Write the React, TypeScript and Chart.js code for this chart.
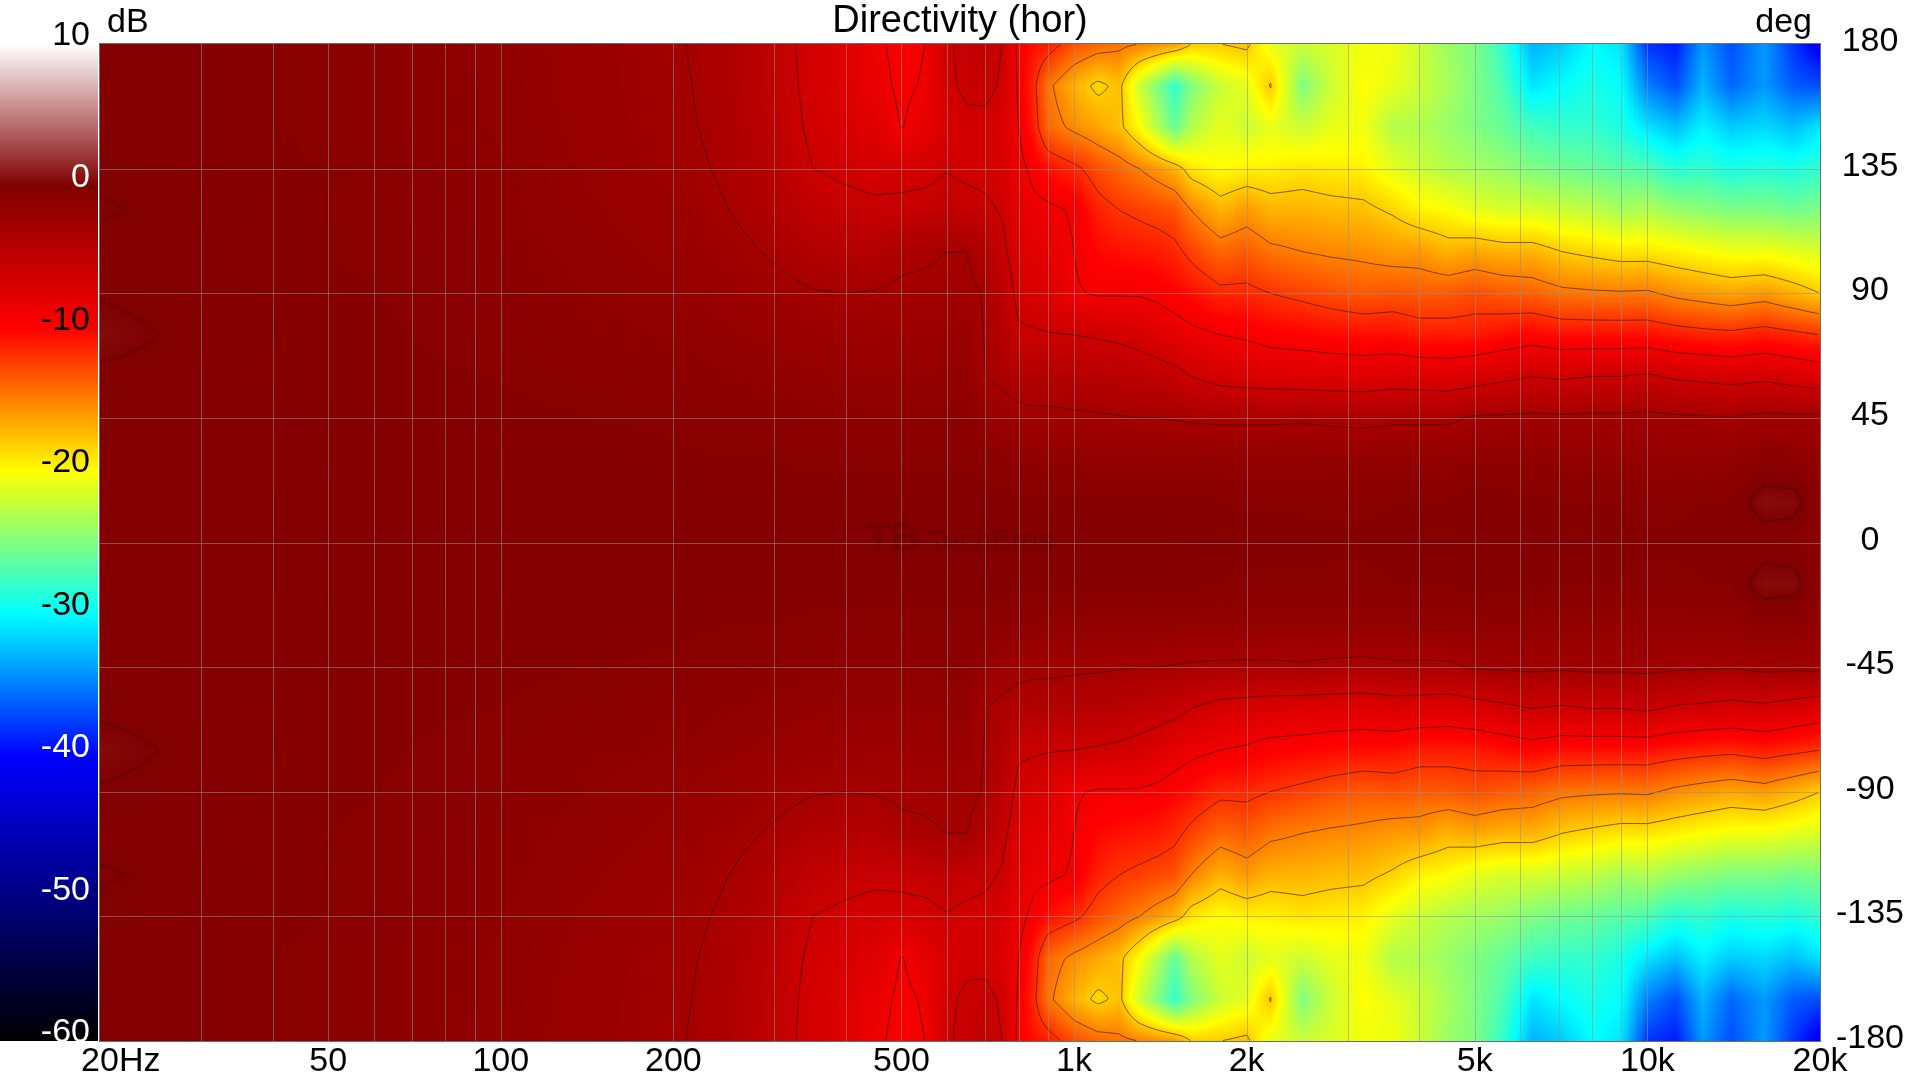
import React, { useEffect, useRef } from 'react';
import { Chart, registerables } from 'chart.js';

Chart.register(...registerables);

// measured grid: frequency columns (Hz)
const freqs = [
  20, 30, 50, 100, 150,
  200, 250, 300, 350, 400, 450,
  500, 550, 600, 650, 700, 750, 800, 850, 900,
  1000, 1100, 1200, 1300, 1400, 1500, 1600, 1800,
  2000, 2200, 2500, 2800, 3200, 3600, 4000, 4500,
  5000, 5600, 6300, 7100, 8000, 9000,
  10000, 11200, 12500, 14000, 16000, 18000, 20000,
];

// angle rows (deg) - the horizontal plot is symmetric, negative angles use the same rows
const angles = [0, 15, 30, 45, 60, 75, 90, 105, 120, 135, 150, 165, 180];

// level in dB per angle row, one value per frequency column
const deg0 = [
  -0.3, -0.4, -0.3, -0.3, -0.3,
  -0.3, -0.3, -0.3, -0.3, -0.3, -0.3,
  -0.3, -0.3, -0.3, -0.3, -0.3, -0.3, -0.3, -0.3, -0.3,
  -0.3, -0.3, -0.3, -0.3, -0.3, -0.4, -0.4, -0.4,
  -0.4, -0.4, -0.4, -0.5, -0.5, -0.5, -0.4, -0.4,
  -0.4, -0.4, -0.4, -0.4, -0.4, -0.5,
  -0.5, -0.5, -0.5, -0.5, -0.5, -0.6, -1.0,
];
const deg15 = [
  -0.3, -0.4, -0.3, -0.3, -0.3,
  -0.4, -0.4, -0.4, -0.4, -0.4, -0.4,
  -0.4, -0.4, -0.4, -0.4, -0.4, -0.4, -0.5, -0.5, -0.5,
  -0.5, -0.5, -0.5, -0.5, -0.5, -0.5, -0.5, -0.6,
  -0.7, -0.7, -0.7, -0.7, -0.7, -0.6, -0.6, -0.6,
  -0.3, -0.4, -0.5, -0.6, -0.6, -0.6,
  -0.8, -0.7, -0.6, -0.6, 0.5, 0.4, -1.0,
];
const deg30 = [
  -0.3, -0.4, -0.4, -0.4, -0.4,
  -0.5, -0.6, -0.6, -0.7, -0.7, -0.7,
  -0.7, -0.7, -0.7, -0.7, -0.8, -1.0, -1.2, -1.2, -1.3,
  -1.3, -1.4, -1.4, -1.4, -1.5, -1.5, -1.5, -1.6,
  -1.6, -1.6, -1.6, -1.5, -1.5, -1.5, -1.5, -1.4,
  -1.3, -1.3, -1.3, -1.4, -1.4, -1.5,
  -1.5, -1.5, -1.4, -1.4, -0.9, -1.0, -1.5,
];
const deg45 = [
  -0.3, -0.4, -0.4, -0.5, -0.6,
  -0.7, -0.8, -0.9, -1.0, -1.1, -1.1,
  -1.1, -1.1, -1.0, -1.0, -1.5, -2.2, -2.5, -2.6, -2.6,
  -2.7, -2.8, -2.9, -3.0, -3.0, -3.1, -3.2, -3.3,
  -3.3, -3.3, -3.2, -3.4, -3.5, -3.3, -3.3, -3.3,
  -2.8, -2.7, -2.6, -2.7, -2.6, -2.6,
  -2.5, -2.7, -2.8, -2.9, -2.5, -2.6, -2.5,
];
const deg60 = [
  -0.2, -0.4, -0.5, -0.6, -0.8,
  -0.9, -1.1, -1.3, -1.5, -1.6, -1.6,
  -1.6, -1.6, -1.5, -1.5, -3.0, -3.4, -3.8, -4.0, -4.0,
  -4.2, -4.3, -4.5, -4.7, -5.0, -5.3, -6.0, -6.8,
  -7.0, -7.2, -7.3, -7.4, -7.5, -7.2, -7.3, -7.5,
  -7.0, -6.5, -6.0, -6.3, -6.0, -6.0,
  -5.7, -6.3, -6.5, -6.8, -6.5, -7.0, -7.5,
];
const deg75 = [
  0.4, -0.3, -0.5, -0.7, -1.0,
  -1.2, -1.5, -1.8, -2.1, -2.3, -2.3,
  -2.2, -2.2, -2.1, -2.0, -3.1, -4.0, -5.7, -5.8, -5.9,
  -6.0, -6.2, -6.4, -6.8, -7.3, -8.0, -8.5, -9.0,
  -9.3, -9.8, -10.0, -10.3, -10.5, -10.5, -11.0, -11.0,
  -11.0, -10.5, -10.0, -10.5, -10.5, -10.5,
  -10.5, -11.0, -11.3, -11.5, -11.0, -11.5, -12.0,
];
const deg90 = [
  -0.1, -0.4, -0.5, -0.8, -1.2,
  -1.5, -2.0, -2.5, -2.9, -3.0, -2.9,
  -2.7, -2.7, -2.6, -2.5, -3.2, -4.6, -6.6, -7.0, -7.3,
  -8.8, -9.2, -9.2, -9.2, -9.5, -10.0, -10.5, -11.5,
  -11.5, -12.0, -12.5, -13.0, -13.5, -13.2, -13.5, -13.5,
  -13.0, -13.5, -13.8, -14.5, -14.7, -14.8,
  -14.7, -15.5, -16.0, -16.5, -16.0, -17.0, -18.0,
];
const deg105 = [
  -0.3, -0.4, -0.6, -0.9, -1.4,
  -1.8, -2.5, -3.2, -3.9, -4.1, -4.1,
  -3.4, -3.2, -3.0, -3.0, -4.0, -5.5, -7.2, -7.8, -8.0,
  -9.0, -10.2, -10.6, -10.8, -11.0, -11.5, -12.5, -14.0,
  -13.5, -14.5, -15.0, -15.3, -15.5, -16.0, -16.0, -17.0,
  -16.5, -17.0, -17.0, -18.0, -18.5, -19.0,
  -19.0, -19.5, -20.0, -20.5, -20.5, -21.0, -21.5,
];
const deg120 = [
  0.1, -0.3, -0.6, -1.0, -1.6,
  -2.1, -3.0, -3.9, -5.0, -5.4, -5.6,
  -5.5, -5.3, -5.0, -5.2, -5.6, -6.2, -7.8, -8.5, -8.6,
  -9.2, -11.2, -12.0, -12.4, -12.8, -13.2, -15.0, -17.0,
  -16.0, -17.0, -17.0, -17.3, -17.5, -18.3, -19.5, -20.0,
  -21.0, -21.5, -21.5, -22.0, -22.5, -23.5,
  -23.0, -24.0, -24.5, -25.0, -25.0, -25.5, -25.0,
];
const deg135 = [
  -0.2, -0.4, -0.6, -1.1, -1.8,
  -2.4, -3.3, -4.4, -6.0, -6.4, -6.7,
  -6.7, -6.6, -6.1, -6.5, -6.6, -6.8, -8.4, -9.5, -10.5,
  -11.5, -13.0, -14.0, -15.0, -16.0, -17.0, -19.0, -20.0,
  -19.5, -19.5, -19.0, -19.3, -19.5, -21.0, -22.0, -23.0,
  -23.5, -24.0, -25.0, -25.5, -26.0, -26.5,
  -27.0, -28.5, -28.0, -29.0, -28.5, -29.0, -28.0,
];
const deg150 = [
  -0.3, -0.4, -0.7, -1.2, -1.9,
  -2.6, -3.5, -4.8, -6.4, -7.0, -7.5,
  -9.1, -8.0, -7.0, -6.5, -6.6, -7.2, -9.0, -11.0, -14.0,
  -15.5, -16.5, -17.5, -20.0, -23.0, -26.0, -23.0, -21.0,
  -22.0, -21.0, -22.0, -21.0, -20.5, -23.0, -23.0, -24.0,
  -25.0, -26.0, -27.5, -28.0, -28.0, -29.0,
  -31.0, -32.5, -30.5, -32.0, -31.5, -32.5, -31.0,
];
const deg165 = [
  -0.2, -0.4, -0.7, -1.2, -2.0,
  -2.7, -3.6, -5.0, -6.6, -7.4, -8.3,
  -9.4, -8.8, -6.4, -5.6, -5.4, -6.3, -9.3, -11.5, -14.5,
  -17.0, -18.5, -17.5, -22.0, -25.0, -28.0, -25.0, -22.0,
  -21.0, -17.8, -25.0, -22.0, -20.0, -21.0, -22.0, -23.5,
  -25.0, -27.0, -31.0, -30.0, -29.0, -30.0,
  -35.0, -37.0, -33.0, -36.0, -34.0, -36.5, -37.0,
];
const deg180 = [
  -0.1, -0.4, -0.7, -1.3, -2.0,
  -2.8, -3.7, -5.1, -6.7, -7.5, -8.6,
  -9.6, -9.0, -6.3, -5.4, -5.2, -6.0, -9.5, -10.5, -11.0,
  -13.0, -14.0, -14.5, -15.0, -15.5, -16.0, -18.0, -18.0,
  -17.5, -21.0, -22.0, -21.5, -20.5, -20.5, -22.0, -24.0,
  -25.0, -28.0, -33.0, -32.0, -30.0, -31.0,
  -38.0, -39.0, -34.0, -37.0, -34.0, -38.0, -41.0,
];
const levelRows = [deg0, deg15, deg30, deg45, deg60, deg75, deg90, deg105, deg120, deg135, deg150, deg165, deg180];

const contourLevels = [0, -3, -6, -9, -12, -15, -18];

const freqTicks = [20, 50, 100, 200, 500, 1000, 2000, 5000, 10000, 20000];
const freqTickLabels = ['20Hz', '50', '100', '200', '500', '1k', '2k', '5k', '10k', '20k'];
const freqGrid = [
  30, 40, 50, 60, 70, 80, 90, 100, 200, 300, 400, 500, 600, 700, 800, 900,
  1000, 2000, 3000, 4000, 5000, 6000, 7000, 8000, 9000, 10000,
];
const angleTicks = [180, 135, 90, 45, 0, -45, -90, -135, -180];
const dbTicks = [10, 0, -10, -20, -30, -40, -50, -60];

// colour map stops: dB, r, g, b
const colorStops = [
  [10, 255, 255, 255],
  [0, 128, 0, 0],
  [-10, 255, 0, 0],
  [-15, 255, 128, 0],
  [-20, 255, 255, 0],
  [-25, 128, 255, 128],
  [-30, 0, 255, 255],
  [-35, 0, 128, 255],
  [-40, 0, 0, 255],
  [-50, 0, 0, 128],
  [-60, 0, 0, 0],
];

const FONT = '"Liberation Sans", Arial, sans-serif';
const logFreqs = freqs.map((f) => Math.log10(f));

function colorAt(v: number): number[] {
  const first = colorStops[0];
  const last = colorStops[colorStops.length - 1];
  if (v >= first[0]) return [first[1], first[2], first[3]];
  for (let i = 0; i < colorStops.length - 1; i++) {
    const a = colorStops[i];
    const b = colorStops[i + 1];
    if (v <= a[0] && v >= b[0]) {
      const t = (a[0] - v) / (a[0] - b[0]);
      return [a[1] + (b[1] - a[1]) * t, a[2] + (b[2] - a[2]) * t, a[3] + (b[3] - a[3]) * t];
    }
  }
  return [last[1], last[2], last[3]];
}

function fracIndex(arr: number[], v: number) {
  const n = arr.length - 1;
  if (v <= arr[0]) return 0;
  if (v >= arr[n]) return n;
  let i = 0;
  while (arr[i + 1] < v) i++;
  return i + (v - arr[i]) / (arr[i + 1] - arr[i]);
}

function levelAt(fi: number, ai: number) {
  const i0 = Math.floor(fi);
  const j0 = Math.floor(ai);
  const i1 = Math.min(i0 + 1, freqs.length - 1);
  const j1 = Math.min(j0 + 1, angles.length - 1);
  const tx = fi - i0;
  const ty = ai - j0;
  const a = levelRows[j0][i0] * (1 - tx) + levelRows[j0][i1] * tx;
  const b = levelRows[j1][i0] * (1 - tx) + levelRows[j1][i1] * tx;
  return a * (1 - ty) + b * ty;
}

const directivityPlugin = {
  id: 'directivity',
  afterDraw(chart: any) {
    const { ctx, chartArea: area, scales } = chart;
    const xs = scales.x;
    const ys = scales.y;
    const dbs = scales.db;
    const left = Math.round(area.left);
    const top = Math.round(area.top);
    const w = Math.round(area.right) - left;
    const h = Math.round(area.bottom) - top;

    // map every pixel column / row back to grid positions through the scales
    const fIdx = new Float32Array(w);
    for (let px = 0; px < w; px++) {
      const f = xs.getValueForPixel(left + px + 0.5);
      fIdx[px] = fracIndex(logFreqs, Math.log10(f));
    }
    const aIdx = new Float32Array(h);
    for (let py = 0; py < h; py++) {
      const ang = Math.abs(ys.getValueForPixel(top + py + 0.5));
      aIdx[py] = fracIndex(angles, ang);
    }

    // heat map
    const img = ctx.createImageData(w, h);
    for (let py = 0; py < h; py++) {
      for (let px = 0; px < w; px++) {
        const c = colorAt(levelAt(fIdx[px], aIdx[py]));
        const k = (py * w + px) * 4;
        img.data[k] = c[0];
        img.data[k + 1] = c[1];
        img.data[k + 2] = c[2];
        img.data[k + 3] = 255;
      }
    }
    ctx.putImageData(img, left, top);

    // contour lines (marching squares on a 2px sample grid)
    const s = 2;
    const nx = Math.floor((w - 1) / s) + 1;
    const ny = Math.floor((h - 1) / s) + 1;
    const V = new Float32Array(nx * ny);
    for (let j = 0; j < ny; j++) {
      for (let i = 0; i < nx; i++) {
        V[j * nx + i] = levelAt(fIdx[Math.min(i * s, w - 1)], aIdx[Math.min(j * s, h - 1)]);
      }
    }
    ctx.save();
    ctx.strokeStyle = 'rgba(40,20,0,0.62)';
    ctx.lineWidth = 1;
    for (const L of contourLevels) {
      ctx.beginPath();
      for (let j = 0; j < ny - 1; j++) {
        for (let i = 0; i < nx - 1; i++) {
          const a = V[j * nx + i];
          const b = V[j * nx + i + 1];
          const c = V[(j + 1) * nx + i + 1];
          const d = V[(j + 1) * nx + i];
          const code = (a > L ? 8 : 0) | (b > L ? 4 : 0) | (c > L ? 2 : 0) | (d > L ? 1 : 0);
          if (code === 0 || code === 15) continue;
          const x0 = left + i * s + 0.5;
          const y0 = top + j * s + 0.5;
          const T = [x0 + (s * (L - a)) / (b - a), y0];
          const R = [x0 + s, y0 + (s * (L - b)) / (c - b)];
          const B = [x0 + (s * (L - d)) / (c - d), y0 + s];
          const Lf = [x0, y0 + (s * (L - a)) / (d - a)];
          const seg = (p: number[], q: number[]) => {
            ctx.moveTo(p[0], p[1]);
            ctx.lineTo(q[0], q[1]);
          };
          switch (code) {
            case 1: case 14: seg(Lf, B); break;
            case 2: case 13: seg(B, R); break;
            case 3: case 12: seg(Lf, R); break;
            case 4: case 11: seg(T, R); break;
            case 6: case 9: seg(T, B); break;
            case 7: case 8: seg(Lf, T); break;
            case 5: seg(Lf, T); seg(B, R); break;
            case 10: seg(T, R); seg(Lf, B); break;
          }
        }
      }
      ctx.stroke();
    }

    // grid
    ctx.strokeStyle = 'rgba(145,145,145,0.55)';
    ctx.beginPath();
    for (const f of freqGrid) {
      const px = Math.round(xs.getPixelForValue(f)) + 0.5;
      ctx.moveTo(px, top);
      ctx.lineTo(px, top + h);
    }
    for (const a of angleTicks) {
      if (Math.abs(a) === 180) continue;
      const py = Math.round(ys.getPixelForValue(a)) + 0.5;
      ctx.moveTo(left, py);
      ctx.lineTo(left + w, py);
    }
    ctx.stroke();
    ctx.strokeStyle = 'rgb(110,110,110)';
    ctx.strokeRect(left - 0.5, top - 0.5, w + 1, h + 1);

    // watermark
    ctx.fillStyle = 'rgba(0,0,0,0.1)';
    ctx.textBaseline = 'middle';
    ctx.textAlign = 'left';
    ctx.font = `bold 40px ${FONT}`;
    ctx.fillText('TB', 866, 540);
    ctx.font = `30px ${FONT}`;
    ctx.fillText('-TechBros', 918, 542);

    // colour bar
    const yTop = dbs.getPixelForValue(10);
    const yBot = dbs.getPixelForValue(-60);
    const grad = ctx.createLinearGradient(0, yTop, 0, yBot);
    for (const st of colorStops) {
      grad.addColorStop((10 - st[0]) / 70, `rgb(${st[1]},${st[2]},${st[3]})`);
    }
    ctx.fillStyle = grad;
    ctx.fillRect(0, yTop, left - 2, yBot - yTop);

    ctx.textBaseline = 'alphabetic';
    ctx.font = `34px ${FONT}`;
    ctx.textAlign = 'right';
    dbTicks.forEach((v, i) => {
      const c = colorAt(v);
      const lum = (0.299 * c[0] + 0.587 * c[1] + 0.114 * c[2]) / 255;
      ctx.fillStyle = i === 0 || lum > 0.25 ? '#000' : '#fff';
      ctx.fillText(String(v), 90, dbs.getPixelForValue(v) + 1);
    });

    // angle labels on the right
    ctx.fillStyle = '#000';
    ctx.textAlign = 'center';
    for (const a of angleTicks) {
      ctx.fillText(String(a), 1870, ys.getPixelForValue(a) + 7);
    }

    // frequency labels
    freqTicks.forEach((f, i) => {
      const lab = freqTickLabels[i];
      const px = xs.getPixelForValue(f);
      const num = lab.replace('Hz', '');
      ctx.textAlign = 'left';
      ctx.fillText(lab, px - ctx.measureText(num).width / 2, 1071);
    });

    // header texts
    ctx.textAlign = 'left';
    ctx.fillText('dB', left + 7, 32);
    ctx.textAlign = 'right';
    ctx.fillText('deg', left + w - 8, 32);
    ctx.textAlign = 'center';
    ctx.font = `38px ${FONT}`;
    ctx.fillText('Directivity (hor)', 960, 32);
    ctx.restore();
  },
};

export default function App() {
  const canvasRef = useRef<HTMLCanvasElement>(null);

  useEffect(() => {
    document.body.style.margin = '0';
    const canvas = canvasRef.current;
    if (!canvas) return;
    const chart = new Chart(canvas, {
      type: 'scatter',
      data: { datasets: [] },
      options: {
        responsive: false,
        animation: false,
        devicePixelRatio: 1,
        layout: { padding: { left: 100, right: 100, top: 44, bottom: 39 } },
        plugins: { legend: { display: false }, tooltip: { enabled: false } },
        scales: {
          x: { type: 'logarithmic', min: 20, max: 20000, display: false },
          y: { type: 'linear', min: -180, max: 180, display: false },
          db: { type: 'linear', axis: 'y', min: -60, max: 10, display: false },
        },
      },
      plugins: [directivityPlugin],
    });
    return () => chart.destroy();
  }, []);

  return <canvas ref={canvasRef} width={1920} height={1080} style={{ display: 'block' }} />;
}
